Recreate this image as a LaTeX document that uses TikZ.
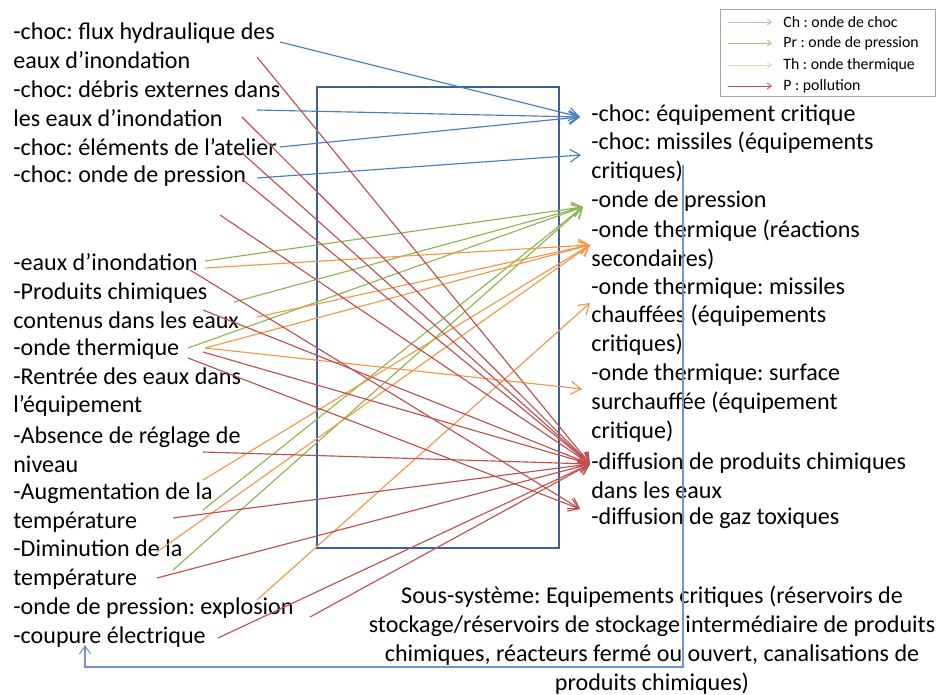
\documentclass[tikz,border=0pt]{standalone}
\usepackage{fontspec}
\setmainfont{Carlito}
\usetikzlibrary{arrows.meta}
\frenchspacing

\definecolor{chBlue}{HTML}{4A7EBB}
\definecolor{prGreen}{HTML}{8DB653}
\definecolor{thOrange}{HTML}{F79646}
\definecolor{pRed}{HTML}{C0504D}
\definecolor{frameBlue}{HTML}{3A5F9C}
\definecolor{loopBlue}{HTML}{6F95C9}

\begin{document}
\begin{tikzpicture}[x=0.02cm, y=-0.02cm,
    item/.style={anchor=west, align=left, inner sep=0pt,
                 font=\fontsize{13.7}{16.4}\selectfont},
    flow/.style={line width=0.65pt, -{Straight Barb[length=2mm, width=2.6mm]}},
    ch/.style={flow, draw=chBlue},
    pr/.style={flow, draw=prGreen},
    th/.style={flow, draw=thOrange},
    po/.style={flow, draw=pRed},
    key/.style={anchor=west, inner sep=0pt, font=\fontsize{9}{10}\selectfont},
    keyline/.style={line width=0.5pt, -{Straight Barb[length=0.8mm, width=1.2mm]}}
  ]
  \useasboundingbox (0,0) rectangle (936,695);

  % sous-systeme
  \draw[frameBlue, line width=1.5pt] (317,87) rectangle (559,548);

  % causes
  \node[item] (FLUX)     at (13,45.5)  {-choc: flux hydraulique des\\eaux d’inondation};
  \node[item] (DEBRIS)   at (13,103.5) {-choc: débris externes dans\\les eaux d’inondation};
  \node[item] (ATELIER)  at (13,147)   {-choc: éléments de l’atelier};
  \node[item] (ONDEP)    at (13,176)   {-choc: onde de pression};
  \node[item] (EAUX)     at (13,262)   {-eaux d’inondation};
  \node[item] (PRODUITS) at (13,305.5) {-Produits chimiques\\contenus dans les eaux};
  \node[item] (THERM)    at (13,349)   {-onde thermique};
  \node[item] (RENTREE)  at (13,392)   {-Rentrée des eaux dans\\l’équipement};
  \node[item] (REGLAGE)  at (13,449.5) {-Absence de réglage de\\niveau};
  \node[item] (AUGM)     at (13,507.5) {-Augmentation de la\\température};
  \node[item] (DIMIN)    at (13,564.5) {-Diminution de la\\température};
  \node[item] (EXPLO)    at (13,608)   {-onde de pression: explosion};
  \node[item] (COUPURE)  at (13,637)   {-coupure électrique};

  % effets
  \node[item] (EQUIP)  at (591,115)   {-choc: équipement critique};
  \node[item] (MISS)   at (591,157.5) {-choc: missiles (équipements\\critiques)};
  \node[item] (PRESS)  at (591,201)   {-onde de pression};
  \node[item] (REACT)  at (591,244.5) {-onde thermique (réactions\\secondaires)};
  \node[item] (CHAUFF) at (591,316.5) {-onde thermique: missiles\\chauffées (équipements\\critiques)};
  \node[item] (SURF)   at (591,403)   {-onde thermique: surface\\surchauffée (équipement\\critique)};
  \node[item] (DIFFP)  at (591,475.5) {-diffusion de produits chimiques\\dans les eaux};
  \node[item] (GAZ)    at (591,518)   {-diffusion de gaz toxiques};

  \node[item, anchor=center, align=center] (SOUS) at (652,640)
    {Sous-système: Equipements critiques (réservoirs de\\stockage/réservoirs de stockage intermédiaire de produits\\chimiques, réacteurs fermé ou ouvert, canalisations de\\produits chimiques)};

  % points d'arrivee
  \coordinate (EQUIP-in)  at (580,117);
  \coordinate (MISS-in)   at (581,155);
  \coordinate (PRESS-in)  at (583,207);
  \coordinate (REACT-in)  at (590,245);
  \coordinate (CHAUFF-in) at (590,303);
  \coordinate (SURF-in)   at (582,389);
  \coordinate (DIFFP-in)  at (590,464);
  \coordinate (GAZ-in)    at (580,509);

  % points de depart
  \coordinate (FLUX-ch)     at (280,42);
  \coordinate (FLUX-p)      at (257,57);
  \coordinate (DEBRIS-ch)   at (257,110);
  \coordinate (DEBRIS-p)    at (242,117);
  \coordinate (ATELIER-ch)  at (280,147);
  \coordinate (ATELIER-p)   at (242,153);
  \coordinate (ONDEP-ch)    at (257,178);
  \coordinate (ONDEP-p)     at (243,180);
  \coordinate (VIDE-p)      at (220,215);
  \coordinate (EAUX-pr)     at (205,261);
  \coordinate (EAUX-th)     at (205,268);
  \coordinate (EAUX-p)      at (190,270);
  \coordinate (PRODUITS-pr) at (234,302);
  \coordinate (PRODUITS-p)  at (203,310);
  \coordinate (PRODUITS-th) at (257,317);
  \coordinate (THERM-pr)    at (188,348);
  \coordinate (THERM-th)    at (205,348);
  \coordinate (THERM-p)     at (203,352);
  \coordinate (THERM-pg)    at (188,358);
  \coordinate (REGLAGE-p)   at (203,452);
  \coordinate (REGLAGE-th)  at (203,480);
  \coordinate (AUGM-pr)     at (203,510);
  \coordinate (AUGM-p)      at (173,518);
  \coordinate (DIMIN-th)    at (157,552);
  \coordinate (DIMIN-pr)    at (173,570);
  \coordinate (DIMIN-p)     at (157,578);
  \coordinate (EXPLO-th)    at (257,600);
  \coordinate (EXPLO-p)     at (310,617);
  \coordinate (COUPURE-p)   at (218,638);

  % onde de choc
  \draw (FLUX-ch) edge[ch] (EQUIP-in);
  \draw (DEBRIS-ch) edge[ch] (EQUIP-in);
  \draw (ATELIER-ch) edge[ch] (EQUIP-in);
  \draw (ONDEP-ch) edge[ch] (MISS-in);

  % onde de pression
  \draw (EAUX-pr) edge[pr] (PRESS-in);
  \draw (PRODUITS-pr) edge[pr] (PRESS-in);
  \draw (THERM-pr) edge[pr] (PRESS-in);
  \draw (AUGM-pr) edge[pr] (PRESS-in);
  \draw (DIMIN-pr) edge[pr] (PRESS-in);

  % onde thermique
  \draw (EAUX-th) edge[th] (REACT-in);
  \draw (PRODUITS-th) edge[th] (REACT-in);
  \draw (THERM-th) edge[th] (REACT-in);
  \draw (REGLAGE-th) edge[th] (REACT-in);
  \draw (DIMIN-th) edge[th] (REACT-in);
  \draw (THERM-th) edge[th] (SURF-in);
  \draw (EXPLO-th) edge[th] (CHAUFF-in);

  % pollution
  \draw (FLUX-p) edge[po] (DIFFP-in);
  \draw (DEBRIS-p) edge[po] (DIFFP-in);
  \draw (ATELIER-p) edge[po] (DIFFP-in);
  \draw (ONDEP-p) edge[po] (DIFFP-in);
  \draw (VIDE-p) edge[po] (DIFFP-in);
  \draw (PRODUITS-p) edge[po] (DIFFP-in);
  \draw (THERM-p) edge[po] (DIFFP-in);
  \draw (REGLAGE-p) edge[po] (DIFFP-in);
  \draw (AUGM-p) edge[po] (DIFFP-in);
  \draw (DIMIN-p) edge[po] (DIFFP-in);
  \draw (EXPLO-p) edge[po] (DIFFP-in);
  \draw (COUPURE-p) edge[po] (DIFFP-in);
  \draw (EAUX-p) edge[po] (GAZ-in);
  \draw (THERM-pg) edge[po] (GAZ-in);

  % retour
  \coordinate (LOOP-start) at (683,165);
  \coordinate (LOOP-corner) at (85,667);
  \coordinate (LOOP-end) at (85,645);
  \draw[loopBlue, line width=0.6pt, -{Straight Barb[length=1.6mm, width=2.2mm]}]
    (LOOP-start) |- (LOOP-corner) -- (LOOP-end);

  % legende
  \draw[gray!70, line width=0.5pt] (720,9) rectangle (935,96);
  \coordinate (K1a) at (728,22); \coordinate (K1b) at (772,22);
  \coordinate (K2a) at (728,43); \coordinate (K2b) at (772,43);
  \coordinate (K3a) at (728,65); \coordinate (K3b) at (772,65);
  \coordinate (K4a) at (728,86); \coordinate (K4b) at (772,86);
  \draw (K1a) edge[keyline, draw=chBlue!50] (K1b);
  \draw (K2a) edge[keyline, draw=prGreen!80] (K2b);
  \draw (K3a) edge[keyline, draw=thOrange!45] (K3b);
  \draw (K4a) edge[keyline, draw=pRed] (K4b);
  \node[key] (KCH) at (783,22) {Ch : onde de choc};
  \node[key] (KPR) at (783,43) {Pr : onde de pression};
  \node[key] (KTH) at (783,65) {Th : onde thermique};
  \node[key] (KP)  at (783,86) {P : pollution};
\end{tikzpicture}
\end{document}
